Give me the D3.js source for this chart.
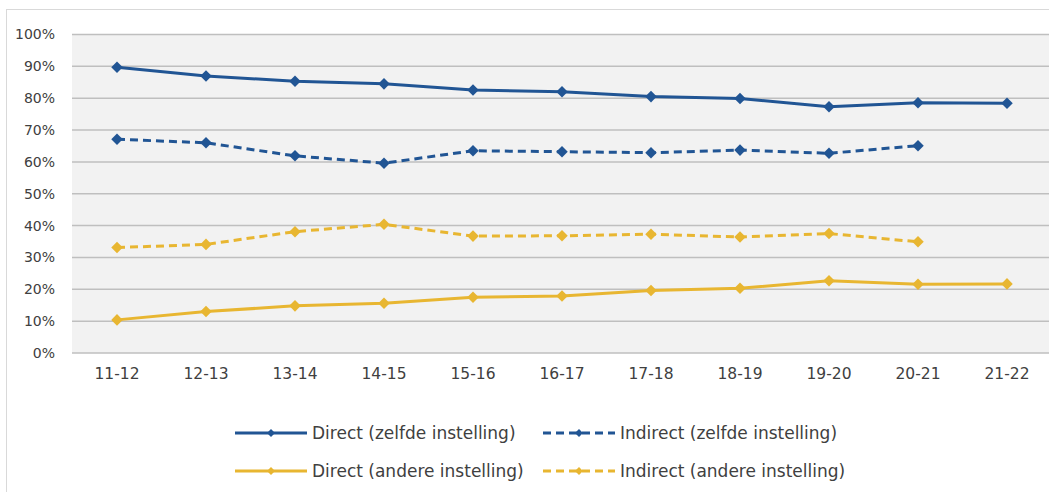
<!DOCTYPE html>
<html>
<head>
<meta charset="utf-8">
<script src="https://cdn.jsdelivr.net/npm/d3@7"></script>
<style>
  html, body { margin: 0; padding: 0; background: #ffffff; }
  svg { display: block; }
  text { font-family: "DejaVu Sans", sans-serif; fill: #404040; }
</style>
</head>
<body>
<svg id="chart" width="1049" height="492"></svg>
<script>
const categories = ["11-12","12-13","13-14","14-15","15-16","16-17","17-18","18-19","19-20","20-21","21-22"];
const directZelfde   = [89.7, 87.0, 85.3, 84.5, 82.6, 82.0, 80.5, 79.9, 77.3, 78.6, 78.4];
const indirectZelfde = [67.1, 66.0, 61.9, 59.6, 63.5, 63.2, 62.9, 63.7, 62.7, 65.1, null];
const directAndere   = [10.4, 13.0, 14.8, 15.6, 17.5, 17.9, 19.6, 20.3, 22.7, 21.6, 21.7];
const indirectAndere = [33.1, 34.1, 38.1, 40.4, 36.7, 36.8, 37.3, 36.4, 37.5, 34.9, null];
const yTicks = [0, 10, 20, 30, 40, 50, 60, 70, 80, 90, 100];
const seriesNames = ["Direct (zelfde instelling)", "Indirect (zelfde instelling)", "Direct (andere instelling)", "Indirect (andere instelling)"];

const BLUE = "#215594", GOLD = "#e8b631";
const series = [
  { name: seriesNames[0], values: directZelfde,   color: BLUE, dashed: false },
  { name: seriesNames[1], values: indirectZelfde, color: BLUE, dashed: true },
  { name: seriesNames[2], values: directAndere,   color: GOLD, dashed: false },
  { name: seriesNames[3], values: indirectAndere, color: GOLD, dashed: true }
];

const svg = d3.select("#chart");

// outer chart border
svg.append("rect").attr("x", 6.5).attr("y", 9.5).attr("width", 1100).attr("height", 600)
  .attr("fill", "none").attr("stroke", "#d9d9d9").attr("stroke-width", 1);

const x = d3.scaleBand().domain(categories).range([72.5, 1051.5]).padding(0);
const y = d3.scaleLinear().domain([0, 100]).range([353, 34.5]);

// plot background
svg.append("rect").attr("x", 72).attr("y", y(100)).attr("width", 1000).attr("height", y(0) - y(100))
  .attr("fill", "#f2f2f2");

// gridlines
svg.append("g").selectAll("line").data(yTicks).join("line")
  .attr("x1", 72).attr("x2", 1060)
  .attr("y1", d => y(d)).attr("y2", d => y(d))
  .attr("stroke", "#bfbfbf").attr("stroke-width", 1.5);

// y axis labels
const yAxis = d3.axisLeft(y).tickValues(yTicks).tickFormat(d => d + "%").tickSize(0).tickPadding(0);
const ya = svg.append("g").attr("transform", "translate(55,0)").call(yAxis);
ya.select(".domain").remove();
ya.selectAll("text").attr("font-size", 14).attr("font-family", "DejaVu Sans, sans-serif").attr("fill", "#404040");

// x axis labels
const xAxis = d3.axisBottom(x).tickSize(0).tickPadding(0);
const xa = svg.append("g").attr("transform", "translate(0,368)").call(xAxis);
xa.select(".domain").remove();
xa.selectAll("text").attr("font-size", 15.5).attr("font-family", "DejaVu Sans, sans-serif").attr("fill", "#404040");

const cx = c => x(c) + x.bandwidth() / 2;
const line = d3.line()
  .defined(d => d.v !== null)
  .x(d => cx(d.c)).y(d => y(d.v));

const diamond = d3.symbol().type(d3.symbolDiamond2);

series.forEach(s => {
  const pts = categories.map((c, i) => ({ c, v: s.values[i] }));
  svg.append("path").datum(pts)
    .attr("d", line)
    .attr("fill", "none")
    .attr("stroke", s.color)
    .attr("stroke-width", 3)
    .attr("stroke-dasharray", s.dashed ? "8,5" : null)
    .attr("stroke-linejoin", "round");
  svg.append("g").selectAll("path").data(pts.filter(p => p.v !== null)).join("path")
    .attr("transform", p => `translate(${cx(p.c)},${y(p.v)})`)
    .attr("d", diamond.size(85)())
    .attr("fill", s.color);
});

// legend
const legendPos = [
  { lx: 235, ly: 433 }, { lx: 543, ly: 433 },
  { lx: 235, ly: 471 }, { lx: 543, ly: 471 }
];
series.forEach((s, i) => {
  const p = legendPos[i];
  const g = svg.append("g").attr("transform", `translate(${p.lx},${p.ly})`);
  g.append("line").attr("x1", 0).attr("x2", 72).attr("y1", 0).attr("y2", 0)
    .attr("stroke", s.color).attr("stroke-width", 3)
    .attr("stroke-dasharray", s.dashed ? "8,5" : null);
  g.append("path").attr("transform", "translate(36,0)")
    .attr("d", diamond.size(40)()).attr("fill", s.color);
  g.append("text").attr("x", 77).attr("y", 0).attr("dy", "0.35em")
    .attr("font-size", 17).text(s.name);
});
</script>
</body>
</html>
